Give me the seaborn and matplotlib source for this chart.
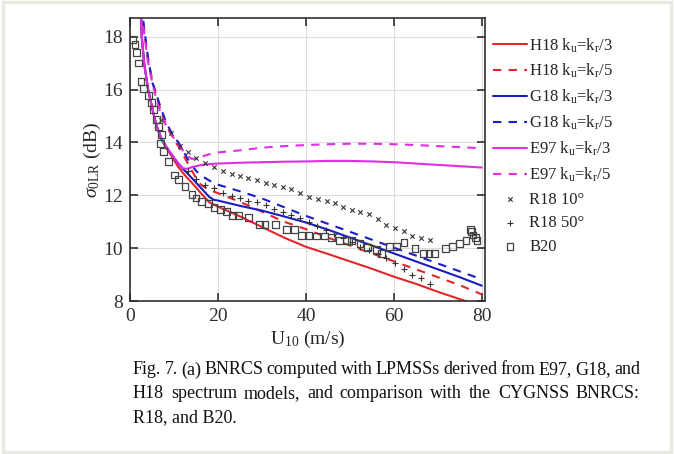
import numpy as np
import pandas as pd
import matplotlib
matplotlib.use("Agg")
import matplotlib.pyplot as plt
import seaborn as sns
from matplotlib.patches import Rectangle

# model curves (wind speed in m/s, BNRCS in dB)
u_model = [3, 4, 5, 6, 7, 8, 9, 10, 11, 12, 13, 14, 15, 16, 17, 18, 19, 20,
           25, 30, 35, 40, 45, 50, 55, 60, 65, 70, 75, 80]
u_solid = [2.3, 2.65, 3.2, 4.1, 5.45, 6, 7, 8, 9, 10, 11, 12, 13, 14, 15, 16, 17, 18, 19, 20,
           25, 30, 35, 40, 45, 50, 55, 60, 65, 70, 75, 80]

h18_k3 = [20.0, 18.0, 17.0, 16.0, 15.0, 14.65, 14.15, 13.85, 13.6, 13.33, 13.06, 12.85,
          12.66, 12.48, 12.3, 12.1, 11.92, 11.74, 11.65, 11.57,
          11.2, 10.8, 10.4, 10.05, 9.78, 9.5, 9.22, 8.92, 8.65, 8.35, 8.07, 7.8]
g18_k3 = [20.0, 18.0, 17.0, 16.0, 15.0, 14.65, 14.2, 13.9, 13.65, 13.42, 13.2, 13.0,
          12.84, 12.66, 12.48, 12.3, 12.12, 11.94, 11.83, 11.8,
          11.6, 11.42, 11.2, 10.97, 10.7, 10.4, 10.1, 9.8, 9.5, 9.2, 8.9, 8.58]
e97_k3 = [20.0, 18.0, 17.0, 16.0, 15.0, 14.65, 14.2, 13.9, 13.65, 13.42, 13.2, 13.02,
          13.0, 13.06, 13.1, 13.14, 13.16, 13.18, 13.19, 13.2,
          13.23, 13.25, 13.27, 13.28, 13.3, 13.3, 13.28, 13.25, 13.2, 13.15, 13.1, 13.05]

h18_k5 = [18.5, 17.2, 16.4, 15.75, 15.2, 14.75, 14.4, 14.1, 13.85, 13.55, 13.25, 12.95,
          12.65, 12.42, 12.3, 12.2, 12.14, 12.08,
          11.75, 11.38, 11.0, 10.72, 10.4, 10.1, 9.8, 9.5, 9.2, 8.9, 8.6, 8.25]
g18_k5 = [18.6, 17.3, 16.3, 15.8, 15.3, 14.85, 14.5, 14.2, 14.0, 13.7, 13.4, 13.15,
          12.92, 12.78, 12.66, 12.56, 12.47, 12.4,
          12.15, 11.88, 11.55, 11.22, 10.92, 10.62, 10.32, 10.02, 9.72, 9.42, 9.12, 8.82]
e97_k5 = [18.4, 17.1, 16.3, 15.6, 15.1, 14.7, 14.4, 14.15, 13.9, 13.7, 13.5, 13.38,
          13.38, 13.45, 13.5, 13.55, 13.59, 13.62,
          13.7, 13.8, 13.86, 13.9, 13.93, 13.95, 13.95, 13.93, 13.9, 13.86, 13.82, 13.78]

# CYGNSS observations
r18_10_u = [7.1, 9.2, 11.3, 13.2, 15.1, 17.0, 19.1, 21.1, 23.1, 25.0, 26.9, 28.9, 30.9,
            32.8, 34.8, 36.7, 38.6, 40.8, 42.7, 44.7, 46.6, 48.5, 50.4, 52.4, 54.4,
            56.4, 58.3, 60.2, 62.3, 64.2, 66.1, 68.2]
r18_10_s = [14.86, 14.35, 13.88, 13.62, 13.4, 13.22, 13.08, 12.93, 12.81, 12.73, 12.65,
            12.56, 12.46, 12.39, 12.31, 12.23, 12.08, 11.95, 11.86, 11.79, 11.72, 11.57,
            11.45, 11.37, 11.3, 11.11, 10.88, 10.75, 10.66, 10.47, 10.37, 10.31]

r18_50_u = [13.2, 15.1, 17.0, 19.1, 21.1, 23.1, 25.0, 26.9, 28.9, 30.9, 32.8, 34.8, 36.7,
            38.6, 40.6, 42.6, 44.6, 46.5, 48.5, 50.4, 52.4, 54.4, 56.4, 58.3, 60.2,
            62.3, 64.2, 66.1, 68.2]
r18_50_s = [12.9, 12.6, 12.39, 12.27, 12.1, 11.98, 11.89, 11.8, 11.73, 11.64, 11.47, 11.36,
            11.27, 11.14, 11.0, 10.85, 10.7, 10.55, 10.4, 10.22, 10.05, 9.92, 9.78, 9.62,
            9.43, 9.2, 8.98, 8.86, 8.64]

b20_u = [0.6, 1.1, 1.4, 1.9, 2.5, 3.0, 4.2, 4.9, 5.3, 6.1, 6.4, 7.2, 7.0, 7.6, 8.7, 10.1,
         11.0, 12.5, 14.1, 15.0, 16.2, 17.8, 19.1, 20.5, 22.0, 23.3, 24.6, 26.9, 29.5,
         30.7, 33.0, 35.5, 37.4, 39.0, 40.7, 42.4, 44.3, 45.8, 47.7, 49.2, 50.4, 52.3,
         54.0, 56.1, 57.2, 59.1, 60.6, 62.3, 64.8, 66.8, 68.0, 69.3, 71.8, 73.3, 75.0,
         76.4, 77.4, 77.7, 78.0, 78.6, 78.9]
b20_s = [17.9, 17.7, 17.4, 17.0, 16.3, 16.05, 15.77, 15.5, 15.23, 14.86, 14.6, 14.29,
         13.95, 13.66, 13.28, 12.77, 12.6, 12.33, 12.02, 11.9, 11.75, 11.68, 11.54, 11.47,
         11.38, 11.22, 11.22, 11.17, 10.88, 10.88, 10.88, 10.69, 10.69, 10.48, 10.47,
         10.46, 10.46, 10.41, 10.28, 10.28, 10.28, 10.18, 10.03, 9.96, 9.8, 10.06, 10.06,
         10.21, 9.98, 9.8, 9.8, 9.8, 9.98, 10.06, 10.18, 10.28, 10.69, 10.63, 10.5,
         10.41, 10.28]

x_ticks = [0, 20, 40, 60, 80]
y_ticks = [8, 10, 12, 14, 16, 18]

caption_lines = [
    "Fig. 7. (a) BNRCS computed with LPMSSs derived from E97, G18, and",
    "H18 spectrum models, and comparison with the CYGNSS BNRCS:",
    "R18, and B20.",
]

RED, BLUE, MAG = "#e3262a", "#1c1cc4", "#e22ee2"

sns.set_style("ticks")
plt.rcParams["font.family"] = ["Liberation Serif", "DejaVu Serif"]
plt.rcParams["mathtext.fontset"] = "custom"
plt.rcParams["mathtext.rm"] = "Liberation Serif"
plt.rcParams["mathtext.it"] = "Liberation Serif:italic"

fig = plt.figure(figsize=(6.74, 4.54), dpi=100)
ax = fig.add_axes([0.193, 0.337, 0.527, 0.623])

series = [
    (u_solid, h18_k3, RED, "-", r"H18 k$_\mathrm{u}$=k$_\mathrm{r}$/3"),
    (u_model, h18_k5, RED, "--", r"H18 k$_\mathrm{u}$=k$_\mathrm{r}$/5"),
    (u_solid, g18_k3, BLUE, "-", r"G18 k$_\mathrm{u}$=k$_\mathrm{r}$/3"),
    (u_model, g18_k5, BLUE, "--", r"G18 k$_\mathrm{u}$=k$_\mathrm{r}$/5"),
    (u_solid, e97_k3, MAG, "-", r"E97 k$_\mathrm{u}$=k$_\mathrm{r}$/3"),
    (u_model, e97_k5, MAG, "--", r"E97 k$_\mathrm{u}$=k$_\mathrm{r}$/5"),
]
for u, s, c, ls, lab in series:
    sns.lineplot(x=u, y=s, color=c, linestyle=ls, linewidth=1.5, label=lab,
                 ax=ax, sort=False, estimator=None)
for line in ax.get_lines():
    if line.get_linestyle() == "--":
        line.set_dashes([4, 3.5])

sns.scatterplot(x=r18_10_u, y=r18_10_s, marker="x", s=10, color="#333333",
                linewidth=0.8, label="R18 10°", ax=ax, zorder=3)
sns.scatterplot(x=r18_50_u, y=r18_50_s, marker="+", s=18, color="#333333",
                linewidth=0.8, label="R18 50°", ax=ax, zorder=3)
sns.scatterplot(x=b20_u, y=b20_s, marker="s", s=24, facecolor="none",
                edgecolor="#444444", linewidth=0.9, label="B20", ax=ax, zorder=3)

ax.set_xlim(0, 80.8)
ax.set_ylim(8, 18.7)
ax.set_xticks(x_ticks)
ax.set_yticks(y_ticks)
ax.grid(True, color="#dcdcdc", linewidth=0.8)
ax.set_axisbelow(True)
for sp in ax.spines.values():
    sp.set_visible(True)
    sp.set_color("#303030")
    sp.set_linewidth(1.2)
ax.tick_params(direction="in", length=6, width=1.2, top=True, right=True,
               labelsize=14, colors="#303030", pad=5)
ax.set_xlabel(r"U$_{10}$ (m/s)", fontsize=14, labelpad=3)
ax.set_ylabel(r"$\sigma_{\mathrm{0LR}}$ (dB)", fontsize=14, labelpad=0)

leg = ax.legend(loc="upper left", bbox_to_anchor=(0.722, 0.935),
                bbox_transform=fig.transFigure, frameon=False, fontsize=12,
                handlelength=2.0, handletextpad=0.15, labelspacing=0.45,
                borderaxespad=0)

# light frame around the figure
fig.patches.append(Rectangle((0.004, 0.004), 0.992, 0.992, transform=fig.transFigure,
                             fill=False, edgecolor="#e9e9df", linewidth=2.5))

# justified caption
renderer = fig.canvas.get_renderer()
x0, x1 = 133 / 674, 640 / 674
ys = [1 - 370 / 454, 1 - 394 / 454, 1 - 418 / 454]
for i, line in enumerate(caption_lines):
    words = line.split(" ")
    if i == len(caption_lines) - 1:
        fig.text(x0, ys[i], line, fontsize=13, va="center", ha="left", color="#111111")
        continue
    texts = [fig.text(0, ys[i], w, fontsize=13, va="center", ha="left", color="#111111")
             for w in words]
    widths = [t.get_window_extent(renderer).width / fig.bbox.width for t in texts]
    gap = (x1 - x0 - sum(widths)) / (len(words) - 1)
    xpos = x0
    for t, w in zip(texts, widths):
        t.set_x(xpos)
        xpos += w + gap

fig.savefig("out.png", dpi=100)
